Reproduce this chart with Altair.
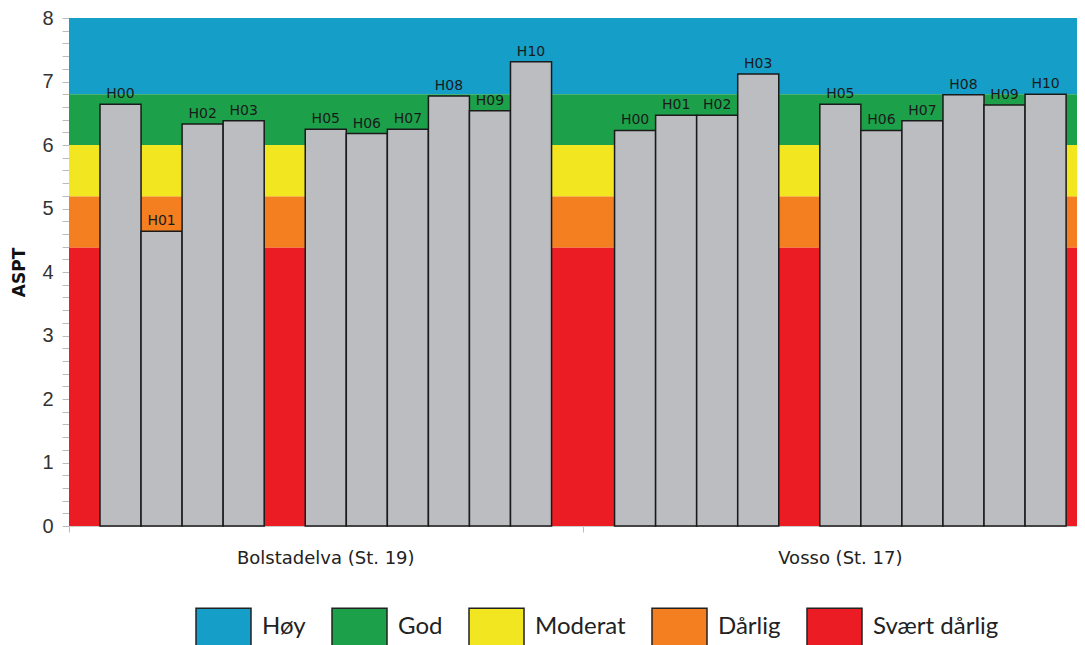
import altair as alt
import pandas as pd

# ---------------- data ----------------
stations = ["Bolstadelva (St. 19)", "Vosso (St. 17)"]
years = ["H00", "H01", "H02", "H03", "H04", "H05", "H06", "H07", "H08", "H09", "H10"]
bolstadelva = [6.64, 4.64, 6.33, 6.38, None, 6.25, 6.18, 6.25, 6.77, 6.54, 7.31]
vosso = [6.23, 6.47, 6.47, 7.12, None, 6.64, 6.23, 6.38, 6.79, 6.63, 6.80]

classes = ["Høy", "God", "Moderat", "Dårlig", "Svært dårlig"]
class_lo = [6.8, 6.0, 5.19, 4.38, 0.0]
class_hi = [8.0, 6.8, 6.0, 5.19, 4.38]
class_colors = ["#149ec8", "#1ca14a", "#f2e620", "#f47f20", "#ec1c24"]

y_ticks = [round(i * 0.2, 1) for i in range(41)]

# ---------------- layout (slot units) ----------------
GROUP_GAP = 1.535
LEFT_PAD = 0.755
RIGHT_PAD = 0.46
W, H = 1016, 508

rows, groups = [], []
for gi, (st, vals) in enumerate(zip(stations, [bolstadelva, vosso])):
    off = gi * (len(years) + GROUP_GAP)
    groups.append({"station": st, "xc": off + len(years) / 2})
    for si, (yr, v) in enumerate(zip(years, vals)):
        if v is None:
            continue
        rows.append({"station": st, "year": yr, "value": v,
                     "x0": off + si, "x1": off + si + 1, "xc": off + si + 0.5})
bars_df = pd.DataFrame(rows)
groups_df = pd.DataFrame(groups)
bands_df = pd.DataFrame({"klasse": classes, "lo": class_lo, "hi": class_hi})

x_max = (len(stations) - 1) * (len(years) + GROUP_GAP) + len(years) + RIGHT_PAD
mid_tick = len(years) + GROUP_GAP / 2

xscale = alt.Scale(domain=[-LEFT_PAD, x_max], nice=False, zero=False, padding=0)
yscale = alt.Scale(domain=[0, 8], nice=False, padding=0)

xaxis = alt.Axis(title=None, labels=False, values=[-LEFT_PAD, mid_tick, x_max],
                 tickSize=6, tickColor="#bbbbbb", domainColor="#cccccc", grid=False)
yaxis = alt.Axis(title="ASPT", values=y_ticks,
                 labelExpr="abs(datum.value - round(datum.value)) < 0.001 ? format(datum.value, 'd') : ''",
                 tickSize=7, tickColor="#bbbbbb", domainColor="#cccccc", grid=False,
                 labelFont="Liberation Sans Narrow, Liberation Sans", labelFontSize=20,
                 labelColor="#333333", labelPadding=9,
                 titleFont="DejaVu Sans", titleFontSize=17, titleFontWeight="bold",
                 titleColor="#111111", titleX=-41, titleY=H / 2)

bands = alt.Chart(bands_df).mark_rect().encode(
    x=alt.value(0),
    x2=alt.value("width"),
    y=alt.Y("lo:Q", scale=yscale, axis=yaxis),
    y2="hi:Q",
    color=alt.Color("klasse:N", scale=alt.Scale(domain=classes, range=class_colors),
                    legend=alt.Legend(title=None, orient="none", direction="horizontal",
                                      legendX=126, legendY=580,
                                      symbolType="M-1,-0.67H1V0.95H-1Z", symbolSize=3025,
                                      symbolStrokeColor="#222222", symbolStrokeWidth=1.5,
                                      symbolOpacity=1,
                                      labelFont="Lato", labelFontSize=24, labelColor="#222222",
                                      labelOffset=10, columnPadding=23, padding=0,
                                      labelLimit=300)),
)

bars = alt.Chart(bars_df).mark_rect(fill="#bcbdc1", stroke="#1a1a1a", strokeWidth=1.5).encode(
    x=alt.X("x0:Q", scale=xscale, axis=xaxis),
    x2="x1:Q",
    y=alt.Y("value:Q", scale=yscale, axis=yaxis),
    y2=alt.datum(0),
)

bar_labels = alt.Chart(bars_df).mark_text(
    font="DejaVu Sans", fontSize=14, color="#1a1a1a", baseline="alphabetic", dy=-6
).encode(
    x=alt.X("xc:Q", scale=xscale, axis=xaxis),
    y=alt.Y("value:Q", scale=yscale, axis=yaxis),
    text="year:N",
)

group_labels = alt.Chart(groups_df).mark_text(
    font="DejaVu Sans", fontSize=18, color="#222222", baseline="alphabetic"
).encode(
    x=alt.X("xc:Q", scale=xscale, axis=xaxis),
    y=alt.value(H + 38),
    text="station:N",
)

chart = alt.layer(bands, bars, bar_labels, group_labels).properties(
    width=W, height=H,
    autosize=alt.AutoSizeParams(type="none"),
    padding={"left": 61, "top": 10, "right": -8, "bottom": 119},
).configure_view(stroke=None)

chart.save("out.html", embed_options={"renderer": "svg", "actions": False})
